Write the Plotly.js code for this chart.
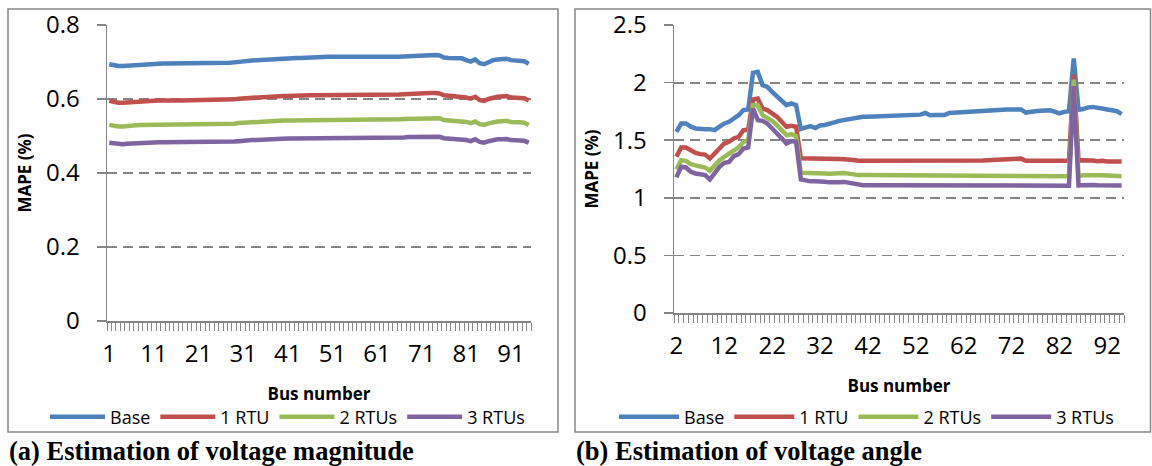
<!DOCTYPE html>
<html><head><meta charset="utf-8">
<script src="https://cdn.plot.ly/plotly-3.0.1.min.js"></script>
<style>html,body{margin:0;padding:0;background:#fff}#chart{width:1152px;height:466px}</style>
</head><body><div id="chart"></div>
<script>
// ---------- data ----------
var seriesNames = ['Base', '1 RTU', '2 RTUs', '3 RTUs'];
var seriesColors = ['#4F81BD', '#C0504D', '#9BBB59', '#8064A2'];

var busMag = [1,2,3,4,5,6,7,8,9,10,11,12,13,14,15,16,17,18,19,20,21,22,23,24,25,26,27,28,29,30,31,32,33,34,35,36,37,38,39,40,41,42,43,44,45,46,47,48,49,50,51,52,53,54,55,56,57,58,59,60,61,62,63,64,65,66,67,68,69,70,71,72,73,74,75,76,77,78,79,80,81,82,83,84,85,86,87,88,89,90,91,92,93,94,95];
var magTickVals = [1,11,21,31,41,51,61,71,81,91];
var magTickText = ['1','11','21','31','41','51','61','71','81','91'];

var magBase = [0.694,0.691,0.689,0.689,0.690,0.691,0.693,0.694,0.695,0.694,
 0.696,0.696,0.696,0.696,0.696,0.696,0.696,0.696,0.695,0.695,
 0.696,0.696,0.696,0.696,0.697,0.697,0.697,0.698,0.699,0.701,
 0.703,0.703,0.704,0.705,0.706,0.707,0.708,0.708,0.709,0.710,
 0.710,0.711,0.711,0.711,0.712,0.712,0.712,0.712,0.713,0.714,
 0.714,0.714,0.713,0.711,0.711,0.711,0.711,0.711,0.711,0.712,
 0.712,0.712,0.713,0.713,0.714,0.714,0.715,0.716,0.716,0.717,
 0.717,0.718,0.719,0.719,0.718,0.712,0.711,0.711,0.711,0.710,
 0.705,0.701,0.707,0.697,0.694,0.700,0.705,0.707,0.708,0.709,
 0.705,0.703,0.704,0.702,0.695];
var mag1RTU = [0.595,0.592,0.590,0.590,0.591,0.592,0.594,0.595,0.596,0.595,
 0.596,0.596,0.596,0.597,0.596,0.596,0.596,0.596,0.596,0.596,
 0.596,0.596,0.596,0.596,0.597,0.597,0.597,0.598,0.599,0.601,
 0.602,0.602,0.603,0.604,0.605,0.606,0.607,0.607,0.608,0.608,
 0.608,0.609,0.609,0.609,0.610,0.610,0.610,0.610,0.611,0.612,
 0.612,0.612,0.611,0.609,0.609,0.609,0.609,0.609,0.609,0.610,
 0.610,0.610,0.611,0.611,0.612,0.612,0.613,0.614,0.614,0.614,
 0.614,0.615,0.616,0.616,0.615,0.610,0.609,0.609,0.609,0.608,
 0.604,0.601,0.606,0.597,0.595,0.600,0.604,0.606,0.607,0.608,
 0.604,0.602,0.603,0.602,0.596];
var mag2RTU = [0.530,0.527,0.526,0.526,0.526,0.527,0.529,0.530,0.530,0.530,
 0.531,0.531,0.531,0.531,0.531,0.531,0.531,0.531,0.530,0.530,
 0.531,0.531,0.531,0.531,0.532,0.532,0.532,0.533,0.533,0.535,
 0.536,0.536,0.537,0.538,0.539,0.539,0.540,0.540,0.541,0.542,
 0.542,0.542,0.542,0.542,0.543,0.543,0.543,0.543,0.544,0.545,
 0.545,0.545,0.544,0.542,0.542,0.542,0.542,0.542,0.542,0.543,
 0.543,0.543,0.544,0.544,0.545,0.545,0.546,0.546,0.546,0.547,
 0.547,0.548,0.549,0.549,0.548,0.543,0.542,0.542,0.542,0.542,
 0.538,0.535,0.539,0.532,0.530,0.534,0.538,0.539,0.540,0.541,
 0.538,0.536,0.537,0.536,0.530];
var mag3RTU = [0.482,0.480,0.478,0.478,0.479,0.480,0.481,0.482,0.482,0.482,
 0.483,0.483,0.483,0.483,0.483,0.483,0.483,0.483,0.482,0.482,
 0.483,0.483,0.483,0.483,0.484,0.484,0.484,0.484,0.485,0.486,
 0.488,0.488,0.489,0.489,0.490,0.491,0.491,0.491,0.492,0.493,
 0.493,0.493,0.493,0.493,0.494,0.494,0.494,0.494,0.495,0.496,
 0.496,0.496,0.495,0.493,0.493,0.493,0.493,0.493,0.493,0.494,
 0.494,0.494,0.495,0.495,0.496,0.496,0.496,0.497,0.497,0.498,
 0.498,0.498,0.499,0.499,0.498,0.494,0.493,0.493,0.493,0.493,
 0.489,0.486,0.491,0.484,0.482,0.486,0.489,0.491,0.491,0.492,
 0.489,0.488,0.489,0.487,0.482];

var busAng = [2,3,4,5,6,7,8,9,10,11,12,13,14,15,16,17,18,19,20,21,22,23,24,25,26,27,28,29,30,31,32,33,34,35,36,37,38,39,40,41,42,43,44,45,46,47,48,49,50,51,52,53,54,55,56,57,58,59,60,61,62,63,64,65,66,67,68,69,70,71,72,73,74,75,76,77,78,79,80,81,82,83,84,85,86,87,88,89,90,91,92,93,94,95];
var angTickVals = [2,12,22,32,42,52,62,72,82,92];
var angTickText = ['2','12','22','32','42','52','62','72','82','92'];

var angBase = [1.573,1.645,1.645,1.617,1.602,1.596,1.596,1.596,1.587,
 1.617,1.645,1.660,1.689,1.717,1.761,1.766,2.084,2.093,1.978,
 1.963,1.920,1.877,1.833,1.804,1.819,1.804,1.598,1.605,1.622,
 1.605,1.628,1.632,1.640,1.655,1.668,1.675,1.679,1.690,1.702,
 1.703,1.704,1.705,1.706,1.708,1.710,1.712,1.714,1.717,1.719,
 1.720,1.724,1.722,1.737,1.717,1.718,1.717,1.718,1.737,1.740,
 1.742,1.745,1.746,1.747,1.748,1.750,1.754,1.756,1.760,1.765,
 1.766,1.766,1.766,1.767,1.740,1.750,1.752,1.756,1.758,1.760,
 1.748,1.732,1.746,1.752,2.210,1.765,1.770,1.785,1.789,1.778,
 1.770,1.766,1.760,1.752,1.726];
var ang1RTU = [1.356,1.437,1.437,1.408,1.390,1.379,1.375,1.341,1.385,
 1.437,1.471,1.486,1.515,1.529,1.587,1.590,1.854,1.862,1.775,
 1.761,1.732,1.703,1.660,1.617,1.625,1.617,1.343,1.341,1.341,
 1.338,1.340,1.336,1.333,1.334,1.336,1.335,1.334,1.328,1.322,
 1.322,1.322,1.322,1.322,1.322,1.322,1.322,1.322,1.322,1.322,
 1.322,1.322,1.315,1.315,1.315,1.315,1.315,1.315,1.315,1.315,
 1.315,1.315,1.318,1.320,1.322,1.324,1.326,1.328,1.332,1.338,
 1.340,1.341,1.341,1.340,1.322,1.322,1.322,1.322,1.322,1.322,
 1.322,1.322,1.322,1.322,2.070,1.325,1.327,1.330,1.324,1.318,
 1.322,1.316,1.318,1.315,1.315];
var ang2RTU = [1.246,1.327,1.321,1.292,1.281,1.275,1.263,1.234,1.284,
 1.327,1.356,1.385,1.414,1.437,1.486,1.500,1.804,1.804,1.717,
 1.697,1.668,1.631,1.587,1.544,1.552,1.535,1.217,1.217,1.216,
 1.217,1.218,1.211,1.208,1.212,1.214,1.215,1.210,1.200,1.197,
 1.197,1.197,1.197,1.197,1.197,1.197,1.197,1.197,1.197,1.197,
 1.197,1.197,1.190,1.190,1.190,1.190,1.190,1.190,1.190,1.190,
 1.190,1.190,1.195,1.195,1.196,1.196,1.197,1.197,1.197,1.197,
 1.197,1.197,1.197,1.197,1.188,1.188,1.188,1.188,1.188,1.188,
 1.188,1.188,1.188,1.188,2.027,1.190,1.195,1.197,1.193,1.192,
 1.195,1.193,1.192,1.190,1.188];
var ang3RTU = [1.177,1.269,1.263,1.226,1.211,1.205,1.197,1.159,1.211,
 1.269,1.304,1.312,1.362,1.379,1.428,1.437,1.775,1.674,1.668,
 1.645,1.602,1.558,1.515,1.472,1.492,1.486,1.160,1.148,1.143,
 1.143,1.145,1.140,1.134,1.132,1.134,1.138,1.130,1.118,1.110,
 1.110,1.110,1.110,1.110,1.110,1.110,1.110,1.110,1.110,1.110,
 1.110,1.110,1.105,1.105,1.105,1.105,1.105,1.105,1.105,1.105,
 1.105,1.105,1.108,1.108,1.109,1.109,1.110,1.110,1.110,1.110,
 1.110,1.110,1.110,1.110,1.105,1.105,1.105,1.105,1.105,1.105,
 1.105,1.105,1.105,1.105,1.969,1.108,1.110,1.115,1.112,1.110,
 1.110,1.108,1.110,1.106,1.106];

var magTitle = '(a) Estimation of voltage magnitude';
var angTitle = '(b) Estimation of voltage angle';
var xTitle = 'Bus number';
var yTitle = 'MAPE (%)';

// ---------- build ----------
var W = 1152, H = 466;
function fx(p){ return p / W; }
function fy(p){ return 1 - p / H; }

var magSeries = [magBase, mag1RTU, mag2RTU, mag3RTU];
var angSeries = [angBase, ang1RTU, ang2RTU, ang3RTU];
var traces = [];
magSeries.forEach(function(s, i){
  traces.push({type:'scatter', mode:'lines', x: busMag, y: s, name: seriesNames[i],
    xaxis:'x', yaxis:'y', legend:'legend',
    line:{color: seriesColors[i], width:4.5}, hoverinfo:'skip'});
});
angSeries.forEach(function(s, i){
  traces.push({type:'scatter', mode:'lines', x: busAng, y: s, name: seriesNames[i],
    xaxis:'x2', yaxis:'y2', legend:'legend2',
    line:{color: seriesColors[i], width:4.5}, hoverinfo:'skip'});
});

var GRAY = '#868686';
var tickFont = {family:'Open Sans', size:24, color:'#000'};
var titleFont = {family:'Open Sans', size:17, color:'#000', weight:'bold'};

function xAxis(domain, range, tv, tt, anchor){
  return {domain: domain, range: range, anchor: anchor, tickmode:'array', tickvals: tv, ticktext: tt,
    ticks:'', showgrid:false, zeroline:false, showline:true, linecolor:GRAY, linewidth:1.5,
    tickfont: tickFont, ticklabelstandoff: 11,
    minor:{tickmode:'linear', tick0:0.5, dtick:1, ticks:'outside', ticklen:8, tickcolor:GRAY, tickwidth:1, showgrid:false},
    title:{text: xTitle, font: titleFont, standoff: 20}, fixedrange:true};
}
function yAxis(domain, range, dtick, anchor){
  return {domain: domain, range: range, dtick: dtick, tick0:0, anchor: anchor,
    ticks:'outside', ticklen:9, tickcolor:GRAY, tickwidth:1.5,
    showgrid:true, gridcolor:GRAY, gridwidth:1.8, griddash:'10px,6px',
    zeroline:false, showline:true, linecolor:GRAY, linewidth:1.5,
    tickfont: tickFont, ticklabelstandoff: 12,
    title:{text: yTitle, font: titleFont, standoff: 10}, fixedrange:true};
}

var legendFont = {family:'Open Sans', size:18, color:'#000'};
var layout = {
  width: W, height: H, margin:{l:0, r:0, t:0, b:0, autoexpand:false},
  paper_bgcolor:'#fff', plot_bgcolor:'#fff',
  font:{family:'Open Sans', color:'#000'},
  showlegend:true,
  xaxis: xAxis([fx(107), fx(531)], [0.5, 95.5], magTickVals, magTickText, 'y'),
  yaxis: yAxis([fy(321), fy(25)], [0, 0.8], 0.2, 'x'),
  xaxis2: xAxis([fx(674), fx(1124)], [1.5, 95.5], angTickVals, angTickText, 'y2'),
  yaxis2: yAxis([fy(313), fy(25)], [0, 2.5], 0.5, 'x2'),
  legend: {orientation:'h', x: fx(45), y: fy(417), xanchor:'left', yanchor:'middle',
    font: legendFont, itemwidth:55,
    bgcolor:'rgba(0,0,0,0)', borderwidth:0, traceorder:'normal'},
  legend2: {orientation:'h', x: fx(614), y: fy(417), xanchor:'left', yanchor:'middle',
    font: legendFont, itemwidth:60,
    bgcolor:'rgba(0,0,0,0)', borderwidth:0, traceorder:'normal'},
  shapes: [
    {type:'rect', xref:'paper', yref:'paper', x0: fx(8), x1: fx(558), y0: fy(432), y1: fy(9), line:{color:GRAY, width:1.5}},
    {type:'rect', xref:'paper', yref:'paper', x0: fx(575), x1: fx(1150.5), y0: fy(432), y1: fy(9), line:{color:GRAY, width:1.5}}
  ],
  annotations: [
    {xref:'paper', yref:'paper', x: fx(7), y: fy(451), xanchor:'left', yanchor:'middle', showarrow:false,
      text:'<b>' + magTitle + '</b>', font:{family:'Liberation Serif', size:26.5, color:'#000'}},
    {xref:'paper', yref:'paper', x: fx(574), y: fy(451), xanchor:'left', yanchor:'middle', showarrow:false,
      text:'<b>' + angTitle + '</b>', font:{family:'Liberation Serif', size:26.5, color:'#000'}}
  ]
};

Plotly.newPlot('chart', traces, layout, {displayModeBar:false, staticPlot:true});
</script></body></html>
